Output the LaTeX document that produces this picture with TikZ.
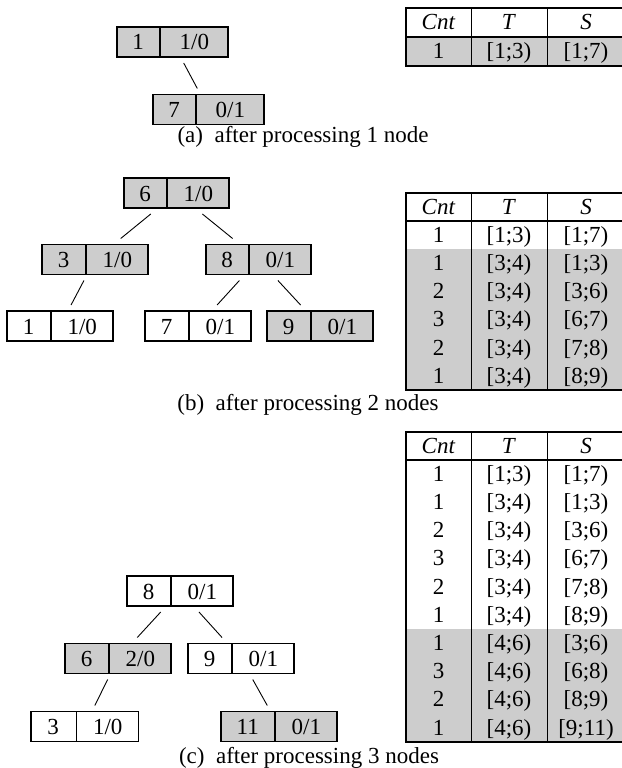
\documentclass[tikz,border=0pt]{standalone}
\usepackage{fontspec}
\setmainfont{Liberation Serif}
\usetikzlibrary{shapes.multipart}
\definecolor{cellgray}{RGB}{205,205,205}

% two-cell key/value box content: widths and texts of both cells
\newcommand\kv[4]{\makebox[#1pt]{\rule[-7pt]{0pt}{30pt}#2}\nodepart{two}\makebox[#3pt]{\rule[-7pt]{0pt}{30pt}#4}}
% gap after the sub-figure label
\newcommand\lblgap{\hspace{0.25em} }

\tikzset{
  tnode/.style={draw, line width=1.6pt, rectangle split, rectangle split horizontal,
    rectangle split parts=2, inner sep=0pt, outer sep=6pt,
    font=\fontsize{23}{27}\selectfont},
  gnode/.style={tnode, fill=cellgray},
  conn/.style={line width=0.9pt},
  cell/.style={inner sep=0pt, anchor=base, font=\fontsize{23}{27}\selectfont},
  caption/.style={inner sep=0pt, anchor=base, font=\fontsize{23}{27}\selectfont},
  outerline/.style={line width=2pt},
  innerline/.style={line width=1pt},
}

\begin{document}
\begin{tikzpicture}[x=1pt, y=-1pt]
\useasboundingbox (0,0) rectangle (621,768);

% ---------- (a) ----------
\node[gnode] (a1) at (172.5,42)  {\kv{42}{1}{67}{1/0}};
\node[gnode] (a2) at (208.5,109.5) {\kv{42}{7}{67}{0/1}};
\draw[conn] (a1) -- (a2);
\node[caption] (capa) at (303,142) {(a)\lblgap after processing 1 node};

% table (a)
\fill[cellgray] (406,37) rectangle (627,66);
\node[cell] (ta-h-c) at (438.5,29.5) {\textit{Cnt}};
\node[cell] (ta-h-t) at (509,29.5) {\textit{T}};
\node[cell] (ta-h-s) at (586,29.5) {\textit{S}};
\node[cell] (ta-1-c) at (438.5,58.5) {1};
\node[cell] (ta-1-t) at (509,58.5) {[1;3)};
\node[cell] (ta-1-s) at (586,58.5) {[1;7)};
\draw[innerline] (471,8) -- (471,66) (547,8) -- (547,66);
\draw[outerline] (406,37) -- (627,37);
\draw[outerline] (406,8) rectangle (627,66);

% ---------- (b) ----------
\node[gnode] (b1) at (176.5,193) {\kv{42}{6}{61}{1/0}};
\node[gnode] (b2) at (95,259.5)  {\kv{43}{3}{61}{1/0}};
\node[gnode] (b3) at (258.5,259.5) {\kv{42}{8}{61}{0/1}};
\node[tnode] (b4) at (60,326)   {\kv{43}{1}{61}{1/0}};
\node[tnode] (b5) at (198,326)  {\kv{43}{7}{61}{0/1}};
\node[gnode] (b6) at (320,326)  {\kv{43}{9}{61}{0/1}};
\draw[conn] (b1) -- (b2);
\draw[conn] (b1) -- (b3);
\draw[conn] (b2) -- (b4);
\draw[conn] (b3) -- (b5);
\draw[conn] (b3) -- (b6);
\node[caption] (capb) at (308,410) {(b)\lblgap after processing 2 nodes};

% table (b)
\fill[cellgray] (406,{193+2*28.2}) rectangle (627,{193+7*28.2});
\node[cell] (tb-h-c) at (438.5,{193+0.5*28.2+7}) {\textit{Cnt}};
\node[cell] (tb-h-t) at (509,{193+0.5*28.2+7}) {\textit{T}};
\node[cell] (tb-h-s) at (586,{193+0.5*28.2+7}) {\textit{S}};
\foreach [count=\i] \cn/\tv/\sv in {1/{[1;3)}/{[1;7)}, 1/{[3;4)}/{[1;3)}, 2/{[3;4)}/{[3;6)},
    3/{[3;4)}/{[6;7)}, 2/{[3;4)}/{[7;8)}, 1/{[3;4)}/{[8;9)}} {
  \node[cell] (tb-\i-c) at (438.5,{193+(\i+0.5)*28.2+7}) {\cn};
  \node[cell] (tb-\i-t) at (509,{193+(\i+0.5)*28.2+7}) {\tv};
  \node[cell] (tb-\i-s) at (586,{193+(\i+0.5)*28.2+7}) {\sv};
}
\draw[innerline] (471,193) -- (471,{193+7*28.2}) (547,193) -- (547,{193+7*28.2});
\draw[outerline] (406,{193+28.2}) -- (627,{193+28.2});
\draw[outerline] (406,193) rectangle (627,{193+7*28.2});

% ---------- (c) ----------
\node[tnode] (c1) at (180,591)   {\kv{43}{8}{61}{0/1}};
\node[gnode] (c2) at (118,658.5) {\kv{43}{6}{61}{2/0}};
\node[tnode] (c3) at (241,658.5) {\kv{43}{9}{61}{0/1}};
\node[tnode] (c4) at (84.5,726.5) {\kv{45}{3}{61}{1/0}};
\node[gnode] (c5) at (279,726.5) {\kv{53}{11}{61}{0/1}};
\draw[conn] (c1) -- (c2);
\draw[conn] (c1) -- (c3);
\draw[conn] (c2) -- (c4);
\draw[conn] (c3) -- (c5);
\node[caption] (capc) at (309,763) {(c)\lblgap after processing 3 nodes};

% table (c)
\fill[cellgray] (406,{432+7*28.2}) rectangle (627,{432+11*28.2});
\node[cell] (tc-h-c) at (438.5,{432+0.5*28.2+7}) {\textit{Cnt}};
\node[cell] (tc-h-t) at (509,{432+0.5*28.2+7}) {\textit{T}};
\node[cell] (tc-h-s) at (586,{432+0.5*28.2+7}) {\textit{S}};
\foreach [count=\i] \cn/\tv/\sv in {1/{[1;3)}/{[1;7)}, 1/{[3;4)}/{[1;3)}, 2/{[3;4)}/{[3;6)},
    3/{[3;4)}/{[6;7)}, 2/{[3;4)}/{[7;8)}, 1/{[3;4)}/{[8;9)},
    1/{[4;6)}/{[3;6)}, 3/{[4;6)}/{[6;8)}, 2/{[4;6)}/{[8;9)}, 1/{[4;6)}/{[9;11)}} {
  \node[cell] (tc-\i-c) at (438.5,{432+(\i+0.5)*28.2+7}) {\cn};
  \node[cell] (tc-\i-t) at (509,{432+(\i+0.5)*28.2+7}) {\tv};
  \node[cell] (tc-\i-s) at (586,{432+(\i+0.5)*28.2+7}) {\sv};
}
\draw[innerline] (471,432) -- (471,{432+11*28.2}) (547,432) -- (547,{432+11*28.2});
\draw[outerline] (406,{432+28.2}) -- (627,{432+28.2});
\draw[outerline] (406,432) rectangle (627,{432+11*28.2});
\end{tikzpicture}
\end{document}
